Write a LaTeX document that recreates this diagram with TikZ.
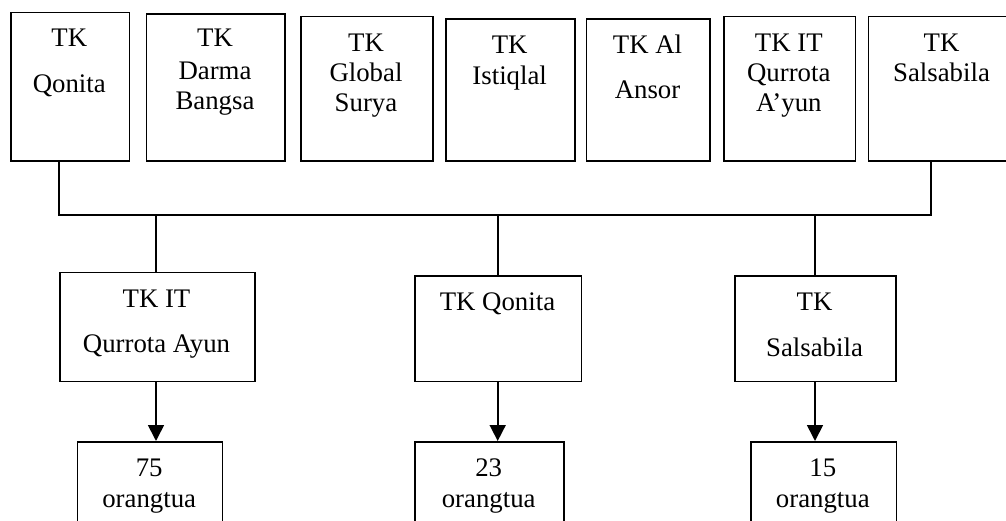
\documentclass[tikz,border=0pt]{standalone}
\usepackage{fontspec}
\setmainfont{Liberation Serif}
\usetikzlibrary{arrows.meta}
\tikzset{
  box/.style={draw, line width=1.7pt, rectangle, inner sep=0pt, anchor=north west},
  lbl/.style={anchor=base, inner sep=0pt, font=\fontsize{26.8}{31}\selectfont},
  conn/.style={line width=1.7pt},
  arr/.style={line width=1.7pt, -{Triangle[width=16pt,length=16pt]}}
}
\begin{document}
\begin{tikzpicture}[x=1pt,y=-1pt]
\useasboundingbox (0,0) rectangle (1006,521);
\clip (0,0) rectangle (1006,521);
% top boxes
\node[box, minimum width=118.7pt, minimum height=148.6pt] (b1) at (10,11.7) {};
\node[box, minimum width=138.6pt, minimum height=146.7pt] (b2) at (145.7,13.3) {};
\node[box, minimum width=132.3pt, minimum height=144.6pt] (b3) at (300,15.7) {};
\node[box, minimum width=129.3pt, minimum height=141.7pt] (b4) at (445,18.3) {};
\node[box, minimum width=123.6pt, minimum height=141.7pt] (b5) at (585.7,18.3) {};
\node[box, minimum width=131.7pt, minimum height=144.3pt] (b6) at (723,15.7) {};
\node[box, minimum width=147.3pt, minimum height=144.3pt] (b7) at (867.7,15.7) {};
% top texts
\node[lbl] (t1a) at (69.3,46.7) {TK};
\node[lbl] (t1b) at (69.3,92.7) {Qonita};
\node[lbl] (t2a) at (215,46.7) {TK};
\node[lbl] (t2b) at (215,79.3) {Darma};
\node[lbl] (t2c) at (215,110) {Bangsa};
\node[lbl] (t3a) at (366,51.7) {TK};
\node[lbl] (t3b) at (366,81.7) {Global};
\node[lbl] (t3c) at (366,111.7) {Surya};
\node[lbl] (t4a) at (509.7,53.3) {TK};
\node[lbl] (t4b) at (509.7,85) {Istiqlal};
\node[lbl] (t5a) at (647.5,53.3) {TK Al};
\node[lbl] (t5b) at (647.5,99) {Ansor};
\node[lbl] (t6a) at (788.8,51.7) {TK IT};
\node[lbl] (t6b) at (788.8,81.7) {Qurrota};
\node[lbl] (t6c) at (788.8,111.7) {A’yun};
\node[lbl] (t7a) at (941.5,51.7) {TK};
\node[lbl] (t7b) at (941.5,81.7) {Salsabila};
% middle boxes
\node[box, minimum width=195pt, minimum height=109pt] (ma) at (59,271.7) {};
\node[box, minimum width=166.4pt, minimum height=105.7pt] (mb) at (414.3,275) {};
\node[box, minimum width=161pt, minimum height=105.4pt] (mc) at (734,275.3) {};
\node[lbl] (tma) at (156.5,307.3) {TK IT};
\node[lbl] (tmb) at (156.5,352.7) {Qurrota Ayun};
\node[lbl] (tmc) at (497.5,310) {TK Qonita};
\node[lbl] (tmd) at (814.5,310) {TK};
\node[lbl] (tme) at (814.5,356) {Salsabila};
% bottom boxes
\node[box, minimum width=145pt, minimum height=100pt] (la) at (76.7,441) {};
\node[box, minimum width=149.3pt, minimum height=100pt] (lb) at (414,441) {};
\node[box, minimum width=145.7pt, minimum height=100pt] (lc) at (750,441) {};
\node[lbl] (tla) at (149.2,476) {75};
\node[lbl] (tlb) at (149.2,507) {orangtua};
\node[lbl] (tlc) at (488.7,476) {23};
\node[lbl] (tld) at (488.7,507) {orangtua};
\node[lbl] (tle) at (822.8,476) {15};
\node[lbl] (tlf) at (822.8,507) {orangtua};
% connectors
\coordinate (hL) at (59.3,215);
\coordinate (hR) at (930.7,215);
\draw[conn] (hL |- b1.south) -- (hL) -- (hR) -- (hR |- b7.south);
\coordinate (da) at (156,215);
\coordinate (db) at (497.7,215);
\coordinate (dc) at (815,215);
\draw[conn] (da) -- (da |- ma.north);
\draw[conn] (db) -- (db |- mb.north);
\draw[conn] (dc) -- (dc |- mc.north);
\draw[arr] (da |- ma.south) -- (da |- la.north);
\draw[arr] (db |- mb.south) -- (db |- lb.north);
\draw[arr] (dc |- mc.south) -- (dc |- lc.north);
\end{tikzpicture}
\end{document}
